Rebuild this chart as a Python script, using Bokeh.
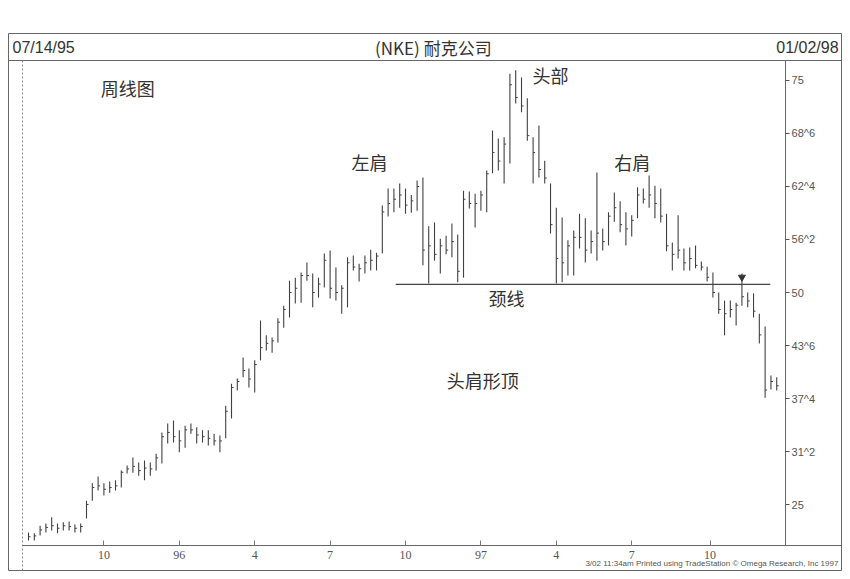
from bokeh.plotting import figure
from bokeh.models import Range1d, LinearAxis, FixedTicker, Label
from bokeh.embed import file_html
from bokeh.resources import INLINE

# weekly bars 07/14/95 .. 01/02/98 (130 weeks)
high = [21.7, 21.6, 22.5, 22.75, 23.5, 22.75, 22.9, 23.0, 22.65, 22.75,
        25.45, 27.5, 28.3, 27.5, 27.7, 27.85, 29.0, 29.6, 30.55, 29.95,
        30.2, 29.95, 31.0, 33.5, 34.55, 34.9, 33.75, 34.3, 34.55, 34.1,
        33.75, 33.75, 33.35, 33.15, 36.65, 39.25, 39.85, 42.35, 41.05, 42.0,
        46.7, 44.95, 44.7, 46.95, 48.45, 51.4, 51.75, 52.35, 53.55, 52.25,
        51.75, 54.6, 54.95, 52.95, 50.85, 54.15, 54.35, 53.4, 54.35, 55.05,
        54.7, 60.25, 62.25, 62.25, 62.85, 62.25, 61.5, 63.2, 63.55, 57.8,
        58.25, 56.35, 56.7, 58.15, 56.85, 62.0, 61.9, 61.65, 62.0, 64.4,
        69.1, 68.15, 68.3, 75.8, 76.2, 75.35, 72.9, 68.3, 69.7, 65.55,
        62.85, 60.0, 58.85, 56.15, 57.3, 59.3, 58.75, 57.3, 64.15, 57.55,
        59.45, 61.8, 60.75, 59.45, 59.1, 62.4, 62.25, 63.8, 62.6, 62.25,
        59.3, 55.9, 59.1, 55.2, 55.3, 55.55, 53.65, 53.05, 52.35, 50.0,
        49.05, 49.05, 48.8, 52.25, 50.0, 49.9, 47.5, 46.0, 40.2, 40.0]
low = [20.75, 20.75, 21.35, 21.7, 21.95, 21.6, 21.95, 21.95, 21.7, 21.7,
       23.35, 25.45, 26.65, 26.05, 26.4, 26.65, 27.0, 28.65, 28.75, 28.4,
       27.85, 28.4, 29.0, 29.85, 32.2, 32.3, 31.15, 31.7, 33.35, 32.2,
       32.3, 31.95, 31.95, 31.15, 32.8, 35.15, 38.45, 40.0, 38.8, 38.2,
       42.0, 43.15, 42.9, 44.1, 45.85, 47.05, 48.7, 48.8, 51.4, 48.25,
       49.4, 50.6, 49.3, 49.05, 47.5, 48.25, 52.6, 51.3, 52.25, 52.6,
       52.6, 54.6, 58.95, 59.45, 60.0, 59.3, 59.4, 59.65, 53.2, 51.05,
       53.75, 52.25, 54.5, 54.15, 51.2, 51.75, 59.9, 57.65, 59.65, 59.45,
       64.05, 64.4, 62.85, 65.2, 72.3, 71.25, 67.9, 62.85, 63.55, 62.85,
       56.95, 51.05, 51.2, 52.0, 52.0, 55.2, 53.55, 54.6, 53.75, 54.95,
       55.55, 58.35, 57.1, 55.55, 56.6, 58.75, 60.5, 60.0, 58.75, 58.25,
       54.85, 52.6, 54.0, 52.6, 52.6, 52.85, 52.6, 51.3, 49.4, 47.5,
       44.95, 47.05, 46.1, 48.45, 48.25, 47.05, 44.0, 37.6, 38.55, 38.45]
close = [21.2, 21.3, 22.0, 22.3, 22.5, 22.2, 22.5, 22.4, 22.2, 22.4,
         25.0, 27.0, 27.2, 26.8, 27.0, 27.2, 28.8, 29.2, 29.5, 29.0,
         29.3, 29.2, 30.5, 33.0, 33.5, 33.0, 32.5, 33.8, 33.8, 33.2,
         33.0, 32.8, 32.5, 32.5, 36.0, 38.8, 39.5, 40.8, 39.8, 41.5,
         43.5, 44.0, 44.3, 46.5, 48.0, 50.0, 50.5, 52.0, 52.0, 50.0,
         51.0, 53.8, 50.5, 50.0, 50.5, 53.5, 53.0, 52.8, 53.5, 53.8,
         54.3, 59.5, 60.5, 61.0, 61.5, 60.3, 60.8, 62.5, 55.0, 55.5,
         54.5, 55.5, 55.0, 56.0, 52.5, 61.0, 60.5, 60.5, 61.5, 64.0,
         66.5, 65.5, 67.5, 74.5, 73.0, 72.0, 68.5, 66.5, 64.5, 63.5,
         58.0, 54.0, 53.5, 55.5, 56.5, 56.5, 55.0, 56.0, 57.0, 56.0,
         59.0, 60.0, 58.0, 57.5, 58.5, 61.5, 61.0, 61.5, 60.5, 59.0,
         55.5, 54.5, 55.0, 53.5, 54.0, 53.2, 53.0, 51.8, 50.0, 48.0,
         47.5, 48.0, 48.5, 49.5, 49.0, 47.8, 45.0, 38.5, 39.5, 39.0]
weeks = list(range(len(high)))

y_ticks = [25, 31.25, 37.5, 43.75, 50, 56.25, 62.5, 68.75, 75]
y_tick_labels = ["25", "31^2", "37^4", "43^6", "50", "56^2", "62^4", "68^6", "75"]
x_ticks = [13, 26, 39, 52, 65, 78, 91, 104, 117.5]
x_tick_labels = ["10", "96", "4", "7", "10", "97", "4", "7", "10"]

neck_level = 50.95
neck_start = 63.3
neck_end = 127.9
signal_week = 123
signal_price = 51.8

title_text = "(NKE) 耐克公司"
start_date = "07/14/95"
end_date = "01/02/98"
footer = "3/02 11:34am Printed using TradeStation \u00a9 Omega Research, Inc 1997"

notes = [
    ("周线图", 17.1, 74.06),
    ("头部", 90.0, 75.6),
    ("左肩", 58.8, 65.33),
    ("右肩", 104.1, 65.33),
    ("颈线", 82.4, 49.3),
    ("头肩形顶", 78.3, 39.74),
]

INK = "#404040"
FRAME = "#666666"

# chart-area edges in data units (price panel inside the printed page frame)
x_lo, x_hi = -1.0345, 130.52
y_lo, y_hi = 20.165, 77.358

p = figure(width=842, height=571, output_backend="svg", toolbar_location=None,
           x_range=Range1d(-3.448, 140.34), y_range=Range1d(17.22, 80.54),
           min_border_left=8, min_border_right=0, min_border_top=33,
           min_border_bottom=1, background_fill_color="white",
           border_fill_color="white")
p.xaxis.visible = False
p.yaxis.visible = False
p.xgrid.visible = False
p.ygrid.visible = False
p.outline_line_color = FRAME
p.outline_line_width = 1

# right price axis, drawn at the right edge of the price panel
ya = LinearAxis(ticker=FixedTicker(ticks=y_ticks), fixed_location=x_hi,
                major_label_overrides={t: l for t, l in zip(y_ticks, y_tick_labels)})
ya.axis_line_color = None
ya.major_tick_line_color = "#555555"
ya.major_tick_out = 4
ya.major_tick_in = 0
ya.minor_tick_line_color = None
ya.major_label_text_font = "Liberation Sans"
ya.major_label_text_font_size = "11px"
ya.major_label_text_color = "#555555"
ya.major_label_standoff = 2
p.add_layout(ya, "right")

# bottom date axis
xa = LinearAxis(ticker=FixedTicker(ticks=x_ticks), fixed_location=y_lo,
                major_label_overrides={t: l for t, l in zip(x_ticks, x_tick_labels)})
xa.axis_line_color = None
xa.major_tick_line_color = "#777777"
xa.major_tick_in = 5
xa.major_tick_out = 0
xa.minor_tick_line_color = None
xa.major_label_text_font = "Liberation Serif"
xa.major_label_text_font_size = "12px"
xa.major_label_text_color = "#555555"
xa.major_label_standoff = 5
p.add_layout(xa, "below")

# panel lines
p.segment(x0=[x_hi], y0=[y_lo], x1=[x_hi], y1=[y_hi], line_color=FRAME, line_width=1)
p.segment(x0=[-3.448], y0=[y_hi], x1=[140.34], y1=[y_hi], line_color=FRAME, line_width=1)
p.segment(x0=[x_lo], y0=[y_lo], x1=[140.34], y1=[y_lo], line_color=FRAME, line_width=1)
p.segment(x0=[x_lo], y0=[17.22], x1=[x_lo], y1=[y_hi], line_color="#888888",
          line_width=1, line_dash="2 2")

# bars
p.segment(x0=weeks, y0=low, x1=weeks, y1=high, line_color=INK, line_width=1.1)
p.segment(x0=weeks, y0=close, x1=[w + 0.35 for w in weeks], y1=close,
          line_color=INK, line_width=1)

# neckline
p.segment(x0=[neck_start], y0=[neck_level], x1=[neck_end], y1=[neck_level],
          line_color="#444444", line_width=1.3)
p.scatter(x=[signal_week], y=[signal_price], marker="inverted_triangle",
          size=7, color="#333333")

# header texts
for txt, x, align, font, size in [(start_date, -2.76, "left", "Liberation Sans", "16px"),
                                  (title_text, 69.8, "center", "Noto Sans CJK SC", "17px"),
                                  (end_date, 139.66, "right", "Liberation Sans", "16px")]:
    p.add_layout(Label(x=x, y=78.9, text=txt, text_align=align,
                       text_baseline="middle", text_font=font,
                       text_font_size=size, text_color="#333333"))

for txt, x, y in notes:
    p.add_layout(Label(x=x, y=y, text=txt, text_align="center",
                       text_baseline="middle", text_font="Noto Sans CJK SC",
                       text_font_size="18px", text_color="#333333"))

p.add_layout(Label(x=139.66, y=18.0, text=footer, text_align="right",
                   text_baseline="middle", text_font="Liberation Sans",
                   text_font_size="8px", text_color="#555555"))

open("out.html", "w").write(file_html(p, INLINE))
